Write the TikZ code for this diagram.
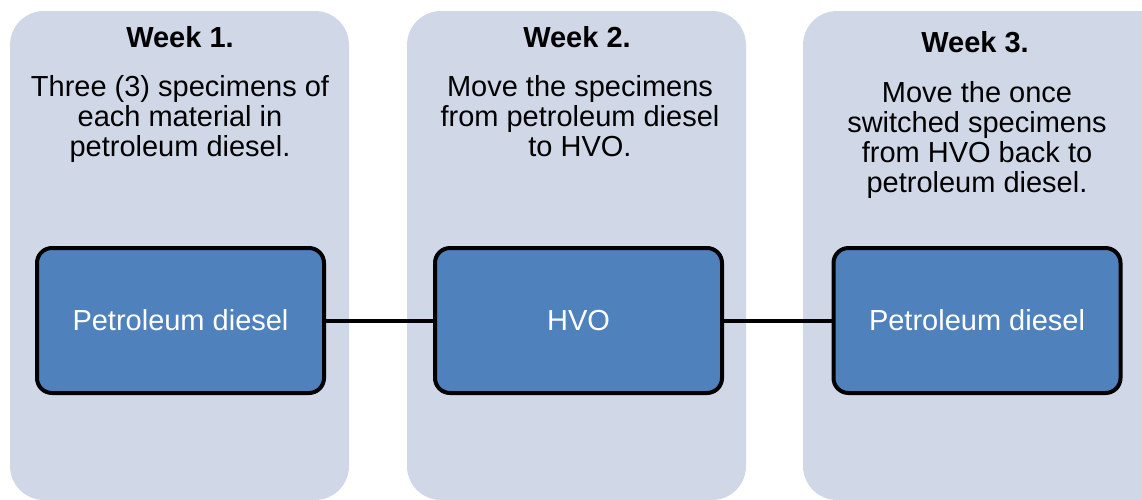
\documentclass[tikz,border=0pt]{standalone}
\usepackage{fontspec}
\setmainfont{Liberation Sans}
\definecolor{panelbg}{HTML}{D0D8E8}
\definecolor{boxblue}{HTML}{4F81BD}
\begin{document}
\begin{tikzpicture}[x=1pt,y=-1pt,
  panel/.style={fill=panelbg, draw=none, rounded corners=34pt},
  fuelbox/.style={draw=black, line width=4pt, fill=boxblue, rounded corners=15pt,
    minimum width=287pt, minimum height=145pt, text=white, inner sep=0pt,
    font=\fontsize{29}{30}\selectfont},
  title/.style={font=\fontsize{29}{30}\selectfont\bfseries, anchor=base, inner sep=0pt},
  desc/.style={font=\fontsize{29}{30}\selectfont, align=center, anchor=base, inner sep=0pt},
  link/.style={line width=4pt, draw=black}
]
\useasboundingbox (0,0) rectangle (1142,499);
\begin{scope}
\clip (0,0) rectangle (1142,499);
\fill[panel] (10,11) rectangle (349,500);
\fill[panel] (407,11) rectangle (746,500);
\fill[panel] (803,11) rectangle (1180,500);
\end{scope}
\node[title] (t1) at (180,47) {Week 1.};
\node[title] (t2) at (577,47) {Week 2.};
\node[title] (t3) at (975,52) {Week 3.};
\node[desc] (d1) at (180,156) {Three (3) specimens of\\each material in\\petroleum diesel.};
\node[desc] (d2) at (580,156) {Move the specimens\\from petroleum diesel\\to HVO.};
\node[desc] (d3) at (977,192) {Move the once\\switched specimens\\from HVO back to\\petroleum diesel.};
\node[fuelbox] (b1) at (180.5,320.5) {Petroleum diesel};
\node[fuelbox] (b2) at (578.5,320.5) {HVO};
\node[fuelbox] (b3) at (977,320.5) {Petroleum diesel};
\draw[link] (b1) -- (b2);
\draw[link] (b2) -- (b3);
\end{tikzpicture}
\end{document}
